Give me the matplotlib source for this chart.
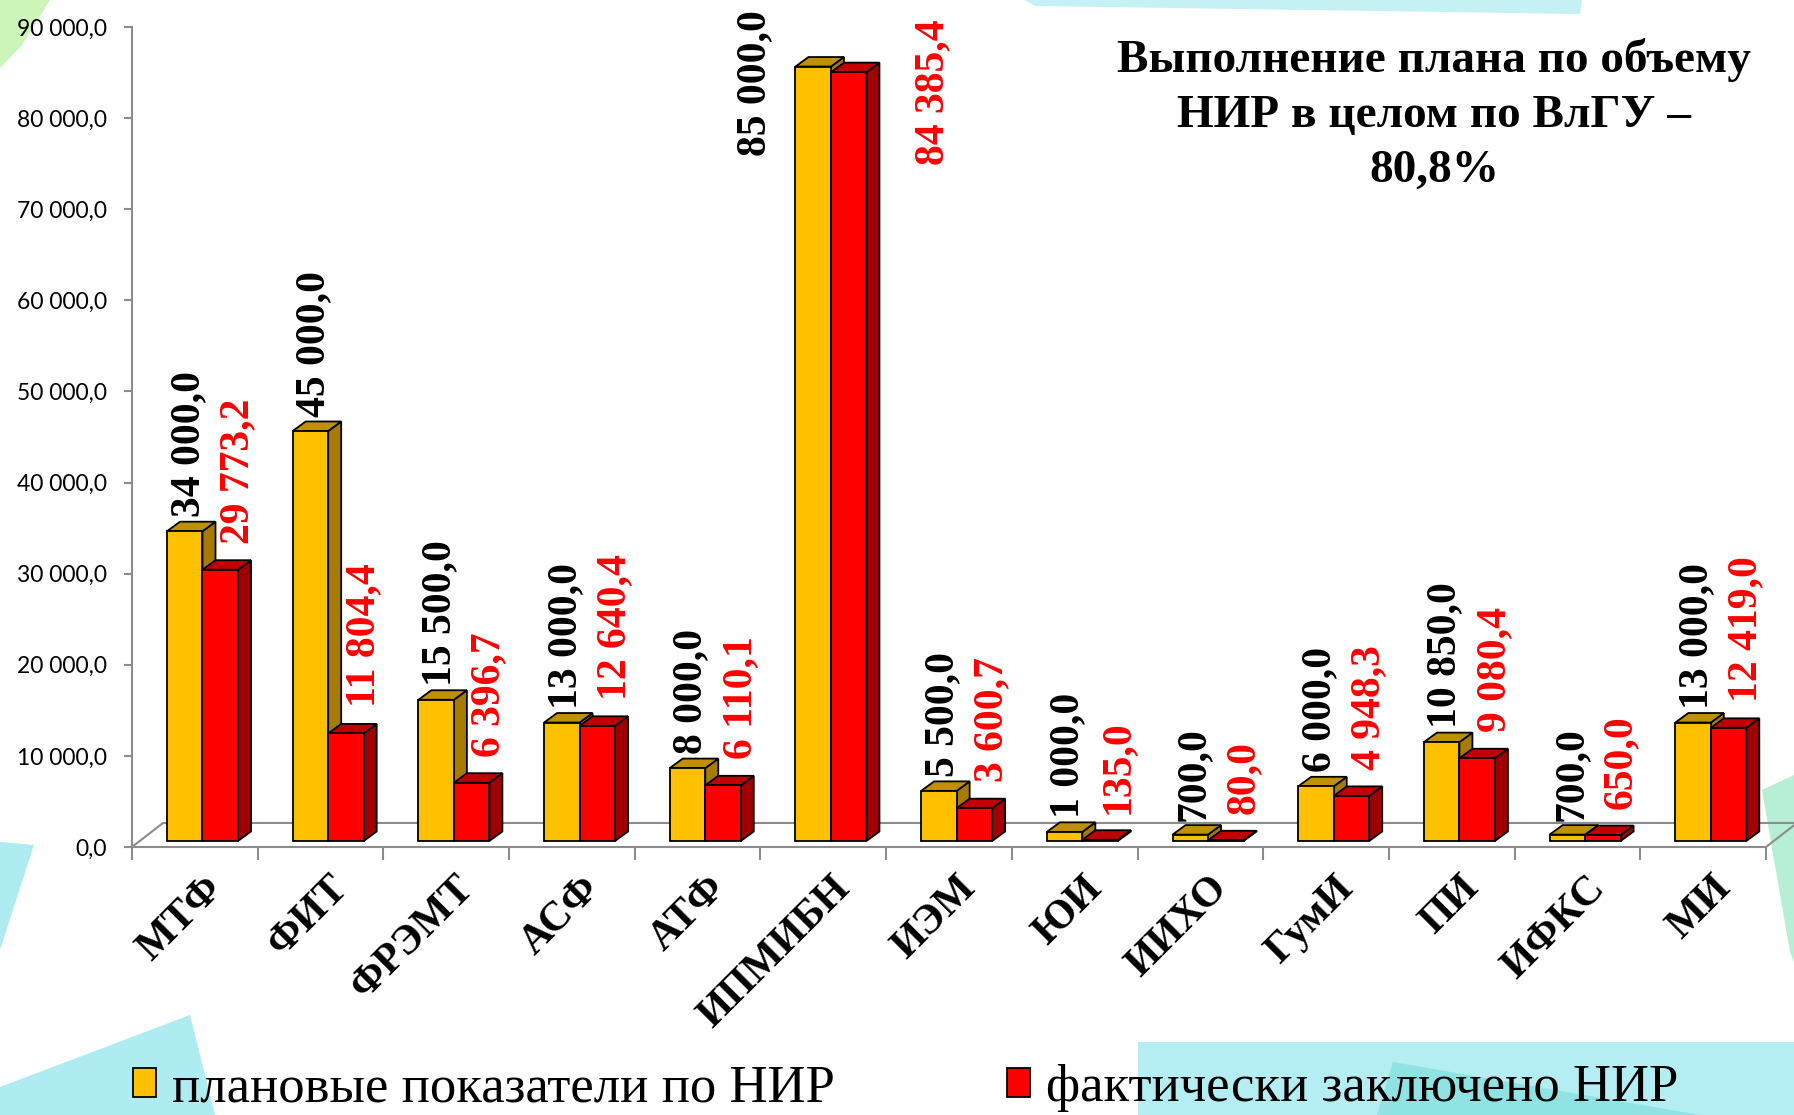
import matplotlib
matplotlib.use('Agg')
import matplotlib.pyplot as plt
from matplotlib.patches import Polygon, Patch
from matplotlib.ticker import FuncFormatter, MultipleLocator

categories = ['МТФ', 'ФИТ', 'ФРЭМТ', 'АСФ', 'АТФ', 'ИПМИБН', 'ИЭМ', 'ЮИ',
              'ИИХО', 'ГумИ', 'ПИ', 'ИФКС', 'МИ']
plan = [34000.0, 45000.0, 15500.0, 13000.0, 8000.0, 85000.0, 5500.0, 1000.0,
        700.0, 6000.0, 10850.0, 700.0, 13000.0]
fact = [29773.2, 11804.4, 6396.7, 12640.4, 6110.1, 84385.4, 3600.7, 135.0,
        80.0, 4948.3, 9080.4, 650.0, 12419.0]
legend_labels = ['плановые показатели по НИР', 'фактически заключено НИР']
title = 'Выполнение плана по объему\nНИР в целом по ВлГУ –\n80,8%'

W, H = 1794, 1115
fig = plt.figure(figsize=(W / 100, H / 100), dpi=100)
fig.patch.set_facecolor('white')

# background decoration of the slide
def deco(pts, color, alpha=1.0):
    fig.add_artist(Polygon([(x / W, 1 - y / H) for x, y in pts], closed=True,
                           transform=fig.transFigure, facecolor=color,
                           edgecolor='none', alpha=alpha, zorder=0))

deco([(0, 0), (50, 0), (22, 45), (0, 68)], '#ccf5b8')
deco([(1025, 0), (1582, 0), (1580, 14), (1035, 6)], '#c5f1f5')
deco([(0, 842), (34, 845), (0, 950)], '#aeecf2')
deco([(0, 1087), (190, 1015), (215, 1115), (0, 1115)], '#aeecf2')
deco([(1138, 1042), (1794, 1042), (1794, 1115), (1138, 1115)], '#b4eef3')
deco([(1393, 1062), (1700, 1115), (1377, 1115)], '#8fe3e3')
deco([(1762, 790), (1794, 775), (1794, 962), (1790, 952)], '#b6efd6')

ax = fig.add_axes([132 / W, 1 - 847 / H, (1766 - 132) / W, (847 - 27) / H])
ax.set_facecolor('none')
ax.set_xlim(-0.5, len(categories) - 0.5)
ax.set_ylim(0, 90000)

pxx = 1.0 / 125.7      # x data units per pixel
pxy = 90000 / 819.0    # y data units per pixel

gray = '#8c8c8c'
for s in ['top', 'right']:
    ax.spines[s].set_visible(False)
for s in ['left', 'bottom']:
    ax.spines[s].set_color(gray)
    ax.spines[s].set_linewidth(1.5)

# floor of the 3d box
fdx, fdy = 31 * pxx, 24 * pxy
x_l, x_r = -0.5, len(categories) - 0.5
ax.plot([x_l, x_l + fdx, x_r + fdx, x_r], [0, fdy, fdy, 0], color=gray,
        lw=1.5, clip_on=False, zorder=1)

ax.yaxis.set_major_locator(MultipleLocator(10000))
ax.yaxis.set_major_formatter(FuncFormatter(
    lambda v, p: f'{v:,.1f}'.replace(',', ' ').replace('.', ',')))
ax.tick_params(axis='y', length=6, width=1.5, color=gray, pad=12,
               labelsize=16.5, labelfontfamily='Lato')
ax.set_xticks([i - 0.5 for i in range(len(categories) + 1)])
ax.set_xticklabels([])
ax.tick_params(axis='x', length=9, width=1.5, color=gray, direction='out')

# 3d bars
w = 35.5 * pxx
base = 6 * pxy
dx, dy = 13 * pxx, 9.5 * pxy
colors = [('#ffc000', '#bf9000', '#a67c00'), ('#ff0000', '#c00000', '#a00000')]

def fmt(v):
    return f'{v:,.1f}'.replace(',', ' ').replace('.', ',')

for i in range(len(categories)):
    for k, vals in enumerate([plan, fact]):
        v = vals[i]
        x0 = i - 0.5 + 35 * pxx + k * w
        front, top, side = colors[k]
        ax.add_patch(Polygon([(x0 + w, base), (x0 + w + dx, base + dy),
                              (x0 + w + dx, base + v + dy), (x0 + w, base + v)],
                             facecolor=side, edgecolor='black', lw=1.3,
                             zorder=3 + i * 0.01, clip_on=False))
        ax.add_patch(Polygon([(x0, base + v), (x0 + w, base + v),
                              (x0 + w + dx, base + v + dy), (x0 + dx, base + v + dy)],
                             facecolor=top, edgecolor='black', lw=1.3,
                             zorder=3 + i * 0.01, clip_on=False))
        ax.bar(x0, v, width=w, bottom=base, align='edge', color=front,
               edgecolor='black', lw=1.3, zorder=3 + i * 0.01)

        cx = x0 + w / 2
        col = 'black' if k == 0 else 'red'
        if v > 80000:
            tx = cx - 58 * pxx if k == 0 else cx + 85 * pxx
            ty = 91900 if k == 0 else 90800
            ax.text(tx, ty, fmt(v), rotation=90, rotation_mode='anchor',
                    ha='right', va='center', color=col, fontsize=30,
                    fontweight='bold', family='Liberation Serif', clip_on=False,
                    zorder=6)
        else:
            tx = cx + (4 if k == 0 else 18) * pxx
            ty = base + v + (14 if k == 0 else 26) * pxy
            ax.text(tx, ty, fmt(v), rotation=90, rotation_mode='anchor',
                    ha='left', va='center', color=col, fontsize=30,
                    fontweight='bold', family='Liberation Serif', zorder=6)

for i, c in enumerate(categories):
    ax.text(i + 8 * pxx, -22 * pxy, c, rotation=45, rotation_mode='anchor',
            ha='right', va='top', fontsize=30, fontweight='bold',
            family='Liberation Serif', clip_on=False)

fig.text(1434 / W, 1 - 115 / H, title, ha='center', va='center',
         fontsize=34, fontweight='bold', family='Liberation Serif',
         linespacing=1.4)

handles = [Patch(facecolor=colors[k][0], edgecolor='black', lw=1.3)
           for k in range(2)]
fig.legend(handles, legend_labels, loc='lower left', ncol=2,
           bbox_to_anchor=(130 / W, 0.0), frameon=False,
           prop={'family': 'Liberation Serif', 'size': 38},
           handlelength=0.45, handleheight=0.45, handletextpad=0.3,
           columnspacing=3.25, borderpad=0.05, borderaxespad=0.0)

fig.savefig('out.png', dpi=100)
